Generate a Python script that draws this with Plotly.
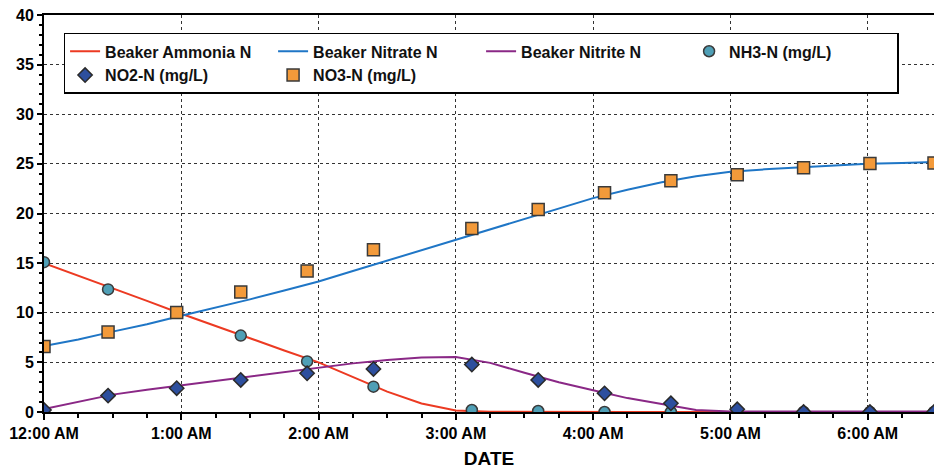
import plotly.graph_objects as go

DAY = "2000-01-01 "

# Model curves, sampled every 15 minutes from 12:00 AM to 6:30 AM
curve_times = [
    "00:00", "00:15", "00:30", "00:45", "01:00", "01:15", "01:30", "01:45",
    "02:00", "02:15", "02:30", "02:45", "03:00", "03:15", "03:30", "03:45",
    "04:00", "04:15", "04:30", "04:45", "05:00", "05:15", "05:30", "05:45",
    "06:00", "06:15", "06:30",
]
beaker_ammonia = [
    15.0, 13.75, 12.5, 11.2, 9.9, 8.65, 7.4, 6.2,
    5.0, 3.55, 2.05, 0.85, 0.15, 0.02, 0.0, 0.0,
    0.0, 0.0, 0.0, 0.0, 0.0, 0.0, 0.0, 0.0,
    0.0, 0.0, 0.0,
]
beaker_nitrate = [
    6.65, 7.3, 8.1, 8.85, 9.7, 10.5, 11.35, 12.25,
    13.15, 14.2, 15.25, 16.3, 17.35, 18.4, 19.45, 20.5,
    21.55, 22.4, 23.15, 23.75, 24.2, 24.45, 24.65, 24.85,
    25.0, 25.1, 25.2,
]
beaker_nitrite = [
    0.3, 1.05, 1.75, 2.25, 2.7, 3.15, 3.55, 4.0,
    4.5, 4.9, 5.25, 5.5, 5.55, 4.95, 3.95, 3.0,
    2.2, 1.4, 0.8, 0.2, 0.06, 0.06, 0.06, 0.06,
    0.06, 0.06, 0.06,
]

# Measured samples
sample_times = [
    "00:00", "00:28", "00:58", "01:26", "01:55", "02:24", "03:07",
    "03:36", "04:05", "04:34", "05:03", "05:32", "06:01", "06:29",
]
nh3_n = [15.1, 12.35, 10.0, 7.7, 5.1, 2.55, 0.2, 0.1, 0.0, 0.0, 0.0, 0.0, 0.0, 0.0]
no2_n = [0.2, 1.65, 2.4, 3.23, 3.9, 4.34, 4.78, 3.23, 1.88, 0.88, 0.27, 0.0, 0.0, 0.0]
no3_n = [6.6, 8.05, 10.03, 12.09, 14.2, 16.36, 18.5, 20.4, 22.1, 23.3, 23.9, 24.6, 25.05, 25.1]

cx = [DAY + t for t in curve_times]
sx = [DAY + t for t in sample_times]

FONT = "Liberation Sans, Arial, sans-serif"

fig = go.Figure()
fig.add_trace(go.Scatter(x=cx, y=beaker_ammonia, mode="lines", name="Beaker Ammonia N",
                         line=dict(color="#ec3a22", width=2)))
fig.add_trace(go.Scatter(x=cx, y=beaker_nitrate, mode="lines", name="Beaker Nitrate N",
                         line=dict(color="#1f76c6", width=2)))
fig.add_trace(go.Scatter(x=cx, y=beaker_nitrite, mode="lines", name="Beaker Nitrite N",
                         line=dict(color="#8a2886", width=2)))
fig.add_trace(go.Scatter(x=sx, y=nh3_n, mode="markers", name="NH3-N (mg/L)",
                         marker=dict(symbol="circle", size=11, color="#4f9fb6",
                                     line=dict(color="#3a3a3a", width=1.5))))
fig.add_trace(go.Scatter(x=sx, y=no2_n, mode="markers", name="NO2-N (mg/L)",
                         marker=dict(symbol="diamond", size=11, color="#2d4f9e",
                                     line=dict(color="#2a2a2a", width=1.5))))
fig.add_trace(go.Scatter(x=sx, y=no3_n, mode="markers", name="NO3-N (mg/L)",
                         marker=dict(symbol="square", size=12, color="#f39a3a",
                                     line=dict(color="#3a3a3a", width=1.5))))

fig.update_layout(
    width=934, height=471,
    margin=dict(l=44, r=0, t=15, b=59),
    paper_bgcolor="white", plot_bgcolor="white",
    font=dict(family=FONT, color="black"),
    showlegend=True,
    legend=dict(
        orientation="h", x=0.022, y=0.955, xanchor="left", yanchor="top",
        bgcolor="white", bordercolor="black", borderwidth=1.5,
        font=dict(family=FONT, size=16, color="#111", weight="bold"),
        entrywidth=163, entrywidthmode="pixels",
        tracegroupgap=0,
    ),
    xaxis=dict(
        type="date",
        range=[DAY + "00:00", DAY + "06:29"],
        dtick=3600000, tick0=DAY + "00:00",
        tickformat="%-I:%M %p",
        ticks="outside", ticklen=6, tickwidth=1.5, tickcolor="black",
        tickfont=dict(family=FONT, size=16, weight="bold"),
        minor=dict(dtick=900000, ticks="outside", ticklen=4, tickcolor="black", showgrid=False),
        showline=True, linecolor="black", linewidth=2, mirror=True,
        showgrid=True, gridcolor="#333", gridwidth=1, griddash="dot",
        title=dict(text="DATE", font=dict(family=FONT, size=19, weight="bold"), standoff=10),
        zeroline=False,
    ),
    yaxis=dict(
        range=[0, 40], dtick=5,
        ticks="outside", ticklen=5, tickwidth=1.5, tickcolor="black",
        tickfont=dict(family=FONT, size=16, weight="bold"),
        minor=dict(dtick=1, ticks="outside", ticklen=3, tickcolor="black", showgrid=False),
        showline=True, linecolor="black", linewidth=2,
        showgrid=True, gridcolor="#333", gridwidth=1, griddash="dot",
        zeroline=False,
    ),
)

fig.write_html("out.html")
